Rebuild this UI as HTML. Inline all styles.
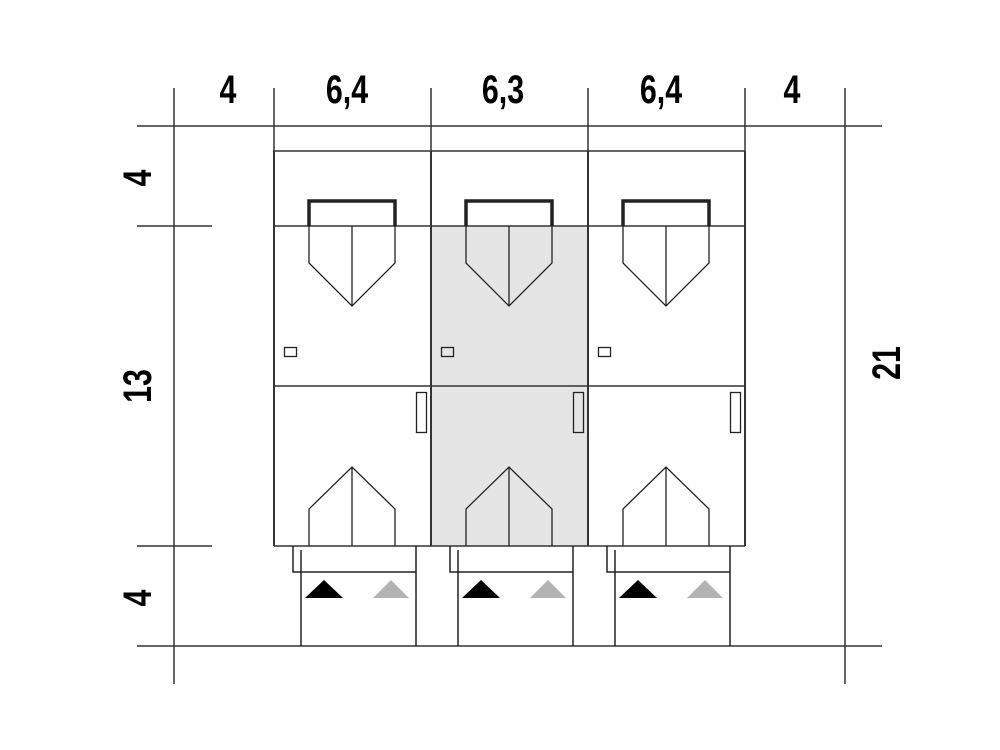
<!DOCTYPE html>
<html><head><meta charset="utf-8"><style>
html,body{margin:0;padding:0;background:#fff}
svg{display:block}
text{font-family:"Liberation Sans",sans-serif;font-weight:bold;font-size:38px;fill:#000}
</style></head><body>
<svg width="1000" height="750" viewBox="0 0 1000 750" xmlns="http://www.w3.org/2000/svg">
<rect x="432" y="226" width="156" height="320" fill="#e5e5e5"/>
<g stroke="#333" stroke-width="1.5" fill="none">
<line x1="137" y1="126" x2="882" y2="126"/>
<line x1="137" y1="646" x2="882" y2="646"/>
<line x1="137" y1="226" x2="212" y2="226"/>
<line x1="137" y1="546" x2="212" y2="546"/>
<line x1="174" y1="88" x2="174" y2="684"/>
<line x1="845" y1="88" x2="845" y2="684"/>
<line x1="274" y1="88" x2="274" y2="151"/>
<line x1="431" y1="88" x2="431" y2="151"/>
<line x1="588" y1="88" x2="588" y2="151"/>
<line x1="745" y1="88" x2="745" y2="151"/>
<line x1="274" y1="151" x2="745" y2="151"/>
<line x1="274" y1="226" x2="745" y2="226"/>
<line x1="274" y1="386" x2="745" y2="386"/>
<line x1="274" y1="546" x2="745" y2="546"/>
<line x1="274" y1="151" x2="274" y2="546" stroke-width="2"/>
<line x1="431" y1="151" x2="431" y2="546" stroke-width="2"/>
<line x1="588" y1="151" x2="588" y2="546" stroke-width="2"/>
<line x1="745" y1="151" x2="745" y2="546" stroke-width="2"/>
</g>
<defs>
<g id="h" stroke="#222" fill="none">
<path d="M309 226 V201 H395 V226" stroke-width="3.5"/>
<path d="M309 226 V263 L352 306 L395 263 V226" stroke-width="1.3"/>
<line x1="352" y1="226" x2="352" y2="306" stroke-width="1.3"/>
<path d="M309 546 V509 L352 467 L395 509 V546" stroke-width="1.3"/>
<line x1="352" y1="467" x2="352" y2="546" stroke-width="1.3"/>
<rect x="284.5" y="347.5" width="12" height="9" stroke-width="1.3"/>
<rect x="416.5" y="392.5" width="10" height="40" stroke-width="1.3"/>
<path d="M293 546 V572 H416" stroke-width="1.5"/>
<line x1="301" y1="550" x2="301" y2="646" stroke-width="1.5"/>
<line x1="416" y1="546" x2="416" y2="646" stroke-width="1.5"/>
<polygon points="305,598 324,580 343,598" fill="#000" stroke="none"/>
<polygon points="373,598 391,580 409,598" fill="#b3b3b3" stroke="none"/>
</g>
</defs>
<use href="#h"/>
<use href="#h" x="157"/>
<use href="#h" x="314"/>
<g transform="translate(228,103) scale(0.8,1.05)"><text text-anchor="middle">4</text></g>
<g transform="translate(347,103) scale(0.8,1.05)"><text text-anchor="middle">6,4</text></g>
<g transform="translate(503,103) scale(0.8,1.05)"><text text-anchor="middle">6,3</text></g>
<g transform="translate(661,103) scale(0.8,1.05)"><text text-anchor="middle">6,4</text></g>
<g transform="translate(792,103) scale(0.8,1.05)"><text text-anchor="middle">4</text></g>
<g transform="translate(151,178) rotate(-90) scale(0.8,1.05)"><text text-anchor="middle">4</text></g>
<g transform="translate(151,386) rotate(-90) scale(0.8,1.05)"><text text-anchor="middle">13</text></g>
<g transform="translate(151,598) rotate(-90) scale(0.8,1.05)"><text text-anchor="middle">4</text></g>
<g transform="translate(900,363) rotate(-90) scale(0.8,1.05)"><text text-anchor="middle">21</text></g>
</svg>
</body></html>
